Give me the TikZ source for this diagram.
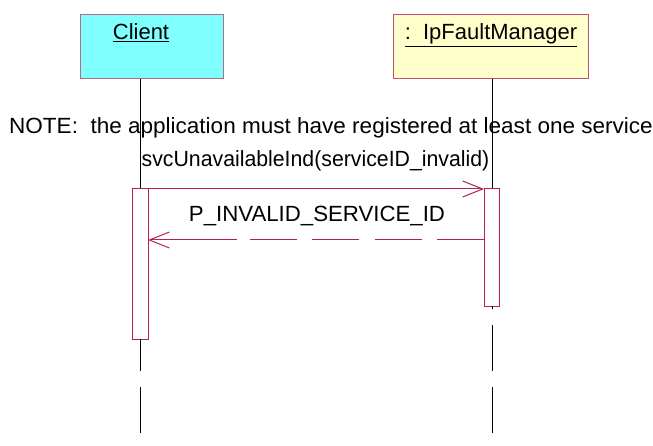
\documentclass[tikz,border=0pt]{standalone}
\usepackage{fontspec}
\setmainfont{Liberation Sans}
\usetikzlibrary{arrows.meta}
\definecolor{cyanfill}{HTML}{80FFFF}
\definecolor{yelfill}{HTML}{FFFFCC}
\definecolor{mauve}{HTML}{B06A8A}
\definecolor{rosebd}{HTML}{C0506E}
\definecolor{msgred}{HTML}{B81E50}
\tikzset{
  objbox/.style={draw, line width=1pt, minimum width=#1, minimum height=64pt, inner sep=0pt, anchor=north west},
  objlabel/.style={font=\fontsize{22}{24}\selectfont, anchor=base},
  lifeline/.style={draw=black, line width=0.9pt},
  actbox/.style={draw=msgred, fill=white, line width=1pt},
  msgline/.style={draw=msgred, line width=1pt},
  msg/.style={msgline, -{Straight Barb[length=20pt,width=16pt,line width=1pt]}},
  retdash/.style={msgline, dash pattern=on 47pt off 15.3pt},
  txt/.style={font=\fontsize{22}{24}\selectfont, inner sep=0pt, anchor=base}
}
\begin{document}
\begin{tikzpicture}[x=1pt,y=-1pt]
\useasboundingbox (0,0) rectangle (653,446);
% object boxes
\node[objbox=143pt, fill=cyanfill, draw=mauve] (client) at (80,14) {};
\node[objbox=195pt, fill=yelfill, draw=rosebd] (mgr) at (393,14) {};
\node[objlabel] (clientlbl) at (141,40) {\underline{Client}};
\node[objlabel] (mgrlbl) at (491,40) {\underline{:\ \ IpFaultManager}};
% texts
\node[txt, xscale=1.024] (note) at (331,134) {NOTE:\ \ the application must have registered at least one service};
\node[txt, xscale=0.967] (call) at (315.5,167) {svcUnavailableInd(serviceID\_invalid)};
\node[txt, xscale=1.01] (retl) at (317,222) {P\_INVALID\_SERVICE\_ID};
% lifeline coordinates
\coordinate (cA) at (140,371);
\coordinate (cB) at (140,387);
\coordinate (cEnd) at (140,433);
\coordinate (mA) at (492,309);
\coordinate (mB) at (492,325);
\coordinate (mC) at (492,371);
\coordinate (mD) at (492,387);
\coordinate (mEnd) at (492,433);
% upper lifelines and activation boxes
\draw[lifeline] (client.south -| cA) -- (140,189);
\draw[lifeline] (mgr.south -| mA) -- (492,189);
\draw[actbox] (132,189) rectangle (148,339);
\draw[actbox] (484,189) rectangle (499,306);
\coordinate (actCtop) at (148,189);
\coordinate (actStop) at (484,189);
\coordinate (actCret) at (148,240);
\coordinate (actSret) at (484,240);
\coordinate (retmid) at (237,240);
\coordinate (actCbot) at (140,339);
\coordinate (actSbot) at (492,306);
% lower lifelines
\draw[lifeline] (actCbot) -- (cA);
\draw[lifeline] (cB) -- (cEnd);
\draw[lifeline] (actSbot) -- (mA);
\draw[lifeline] (mB) -- (mC);
\draw[lifeline] (mD) -- (mEnd);
% messages
\draw[msg] (actCtop) -- (actStop);
\draw[retdash] (actSret) -- (retmid);
\draw[msg] (retmid) -- (actCret);
\end{tikzpicture}
\end{document}
